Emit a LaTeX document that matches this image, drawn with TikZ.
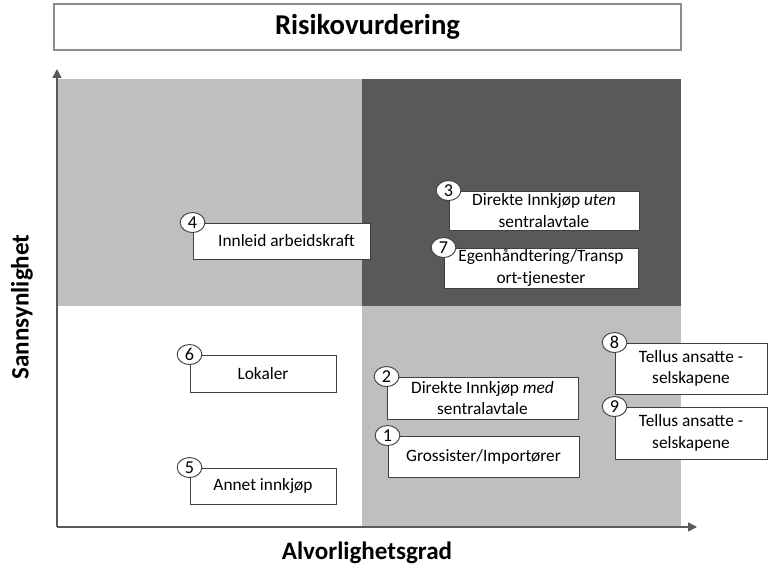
\documentclass[tikz,border=0pt]{standalone}
\usepackage{fontspec}
\setmainfont{Carlito}
\usetikzlibrary{arrows.meta,shapes.geometric}

\definecolor{lightquad}{HTML}{BFBFBF}
\definecolor{darkquad}{HTML}{595959}
\definecolor{axisgray}{HTML}{595959}
\definecolor{framegray}{HTML}{8C8C8C}
\definecolor{boxline}{HTML}{404040}

\tikzset{
    riskbox/.style={draw=boxline,fill=white,line width=0.8pt,align=center,inner sep=0,
        font=\fontsize{14.8pt}{18.5pt}\selectfont},
    numbadge/.style={ellipse,draw=boxline,fill=white,line width=0.8pt,inner sep=0,
        minimum width=0.74cm,minimum height=0.6cm,font=\fontsize{15.5pt}{18pt}\selectfont},
    axisline/.style={draw=axisgray,line width=1.4pt,-{Triangle[length=7.5pt,width=7.5pt]}},
    axislabel/.style={font=\bfseries\fontsize{21.4pt}{24pt}\selectfont}
}

\begin{document}
\begin{tikzpicture}[x=0.03cm,y=-0.03cm]
    \useasboundingbox (0,0) rectangle (774,568);
    % title
    \node[draw=framegray,line width=1.2pt,minimum width=18.81cm,minimum height=1.38cm,
        font=\bfseries\fontsize{24.5pt}{28pt}\selectfont] (title) at (367.5,27) {Risikovurdering};
    % quadrants
    \fill[lightquad] (57,79) rectangle (362,306);
    \fill[darkquad] (362,79) rectangle (681,306);
    \fill[white] (57,306) rectangle (362,526);
    \fill[lightquad] (362,306) rectangle (681,526);
    % axes
    \coordinate (origin) at (57,527);
    \coordinate (ytip) at (57,69);
    \coordinate (xtip) at (697,527);
    \draw[axisline] (origin) -- (ytip);
    \draw[axisline] (origin) -- (xtip);
    \node[axislabel,rotate=90] (ylabel) at (22,307) {Sannsynlighet};
    \node[axislabel] (xlabel) at (367,553) {Alvorlighetsgrad};
    % risk boxes
    \node[riskbox,minimum width=5.31cm,minimum height=1.08cm] (innleid) at (281.5,241) {\hspace{0.3cm}Innleid arbeidskraft};
    \node[riskbox,minimum width=4.38cm,minimum height=1.11cm] (lokaler) at (263,373.5) {Lokaler};
    \node[riskbox,minimum width=4.38cm,minimum height=1.08cm] (annet) at (263,486) {Annet innkjøp};
    \node[riskbox,minimum width=5.7cm,minimum height=1.17cm] (utenavtale) at (544,210.5) {Direkte Innkjøp \textit{uten}\\sentralavtale};
    \node[riskbox,minimum width=5.82cm,minimum height=1.2cm] (egen) at (541,268) {Egenhåndtering/Transp\\ort-tjenester};
    \node[riskbox,minimum width=5.73cm,minimum height=1.26cm] (medavtale) at (482.5,398) {Direkte Innkjøp \textit{med}\\sentralavtale};
    \node[riskbox,minimum width=5.73cm,minimum height=1.23cm] (grossist) at (483.5,456.5) {Grossister/Importører};
    \node[riskbox,minimum width=4.56cm,minimum height=1.53cm] (tellusa) at (691,368.5) {Tellus ansatte -\\selskapene};
    \node[riskbox,minimum width=4.56cm,minimum height=1.56cm] (tellusb) at (691,433) {Tellus ansatte -\\selskapene};
    % numbers
    \node[numbadge] (n1) at (grossist.north west) {1};
    \node[numbadge] (n2) at (medavtale.north west) {2};
    \node[numbadge] (n3) at (utenavtale.north west) {3};
    \node[numbadge] (n4) at (innleid.north west) {4};
    \node[numbadge] (n5) at (annet.north west) {5};
    \node[numbadge] (n6) at (lokaler.north west) {6};
    \node[numbadge] (n7) at (egen.north west) {7};
    \node[numbadge] (n8) at (tellusa.north west) {8};
    \node[numbadge] (n9) at (tellusb.north west) {9};
\end{tikzpicture}
\end{document}
